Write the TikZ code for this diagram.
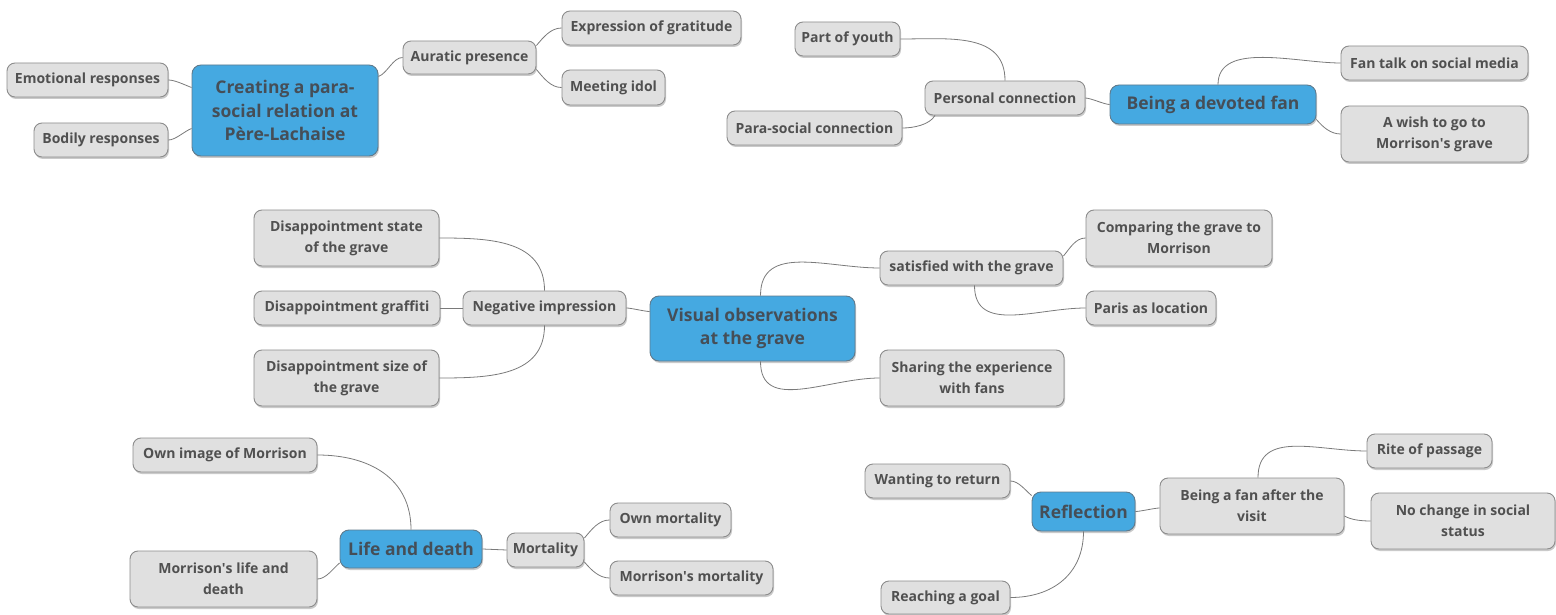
\documentclass[tikz,border=0pt]{standalone}
\usepackage{fontspec}
\setmainfont{Open Sans}
\usetikzlibrary{shadows}
\definecolor{nodefill}{HTML}{E0E0E0}
\definecolor{nodeline}{HTML}{8C8C8C}
\definecolor{txt}{HTML}{505050}
\definecolor{bluefill}{HTML}{45A9E1}
\definecolor{blueline}{HTML}{5F7A8C}
\definecolor{bluetxt}{HTML}{454E57}
\definecolor{conncol}{HTML}{7A7A7A}
\tikzset{
  box/.style={draw=nodeline, line width=0.9pt, fill=nodefill, rounded corners=8pt,
    text=txt, font=\fontsize{14}{21}\selectfont\bfseries, align=center,
    inner sep=0pt, drop shadow={shadow xshift=1pt, shadow yshift=-2pt, opacity=0.35, fill=black!60}},
  topic/.style={draw=blueline, line width=0.9pt, fill=bluefill, rounded corners=9pt,
    text=bluetxt, font=\fontsize{17.5}{23.5}\selectfont\bfseries, align=center,
    inner sep=0pt, drop shadow={shadow xshift=1pt, shadow yshift=-2pt, opacity=0.35, fill=black!60}},
  conn/.style={draw=conncol, line width=0.8pt},
}
\newcommand{\bx}[5]{\node[box, minimum width=#3pt, minimum height=#4pt] (#1) at #2 {#5};}
\newcommand{\tp}[5]{\node[topic, minimum width=#3pt, minimum height=#4pt] (#1) at #2 {#5};}
\newcommand{\ap}{\textquotesingle}
\begin{document}
\begin{tikzpicture}[x=1pt,y=-1pt]
\useasboundingbox (0,0) rectangle (1556,615);
% top-left
\tp{creat}{(285,110.5)}{186}{91}{Creating a para-\\social relation at\\Père-Lachaise}
\bx{emo}{(87.5,80)}{161}{34}{Emotional responses}
\bx{bod}{(101,140)}{134}{34}{Bodily responses}
\bx{aur}{(469.5,57.5)}{133}{33}{Auratic presence}
\bx{expr}{(651.5,28)}{179}{34}{Expression of gratitude}
\bx{meet}{(613.5,87.5)}{103}{35}{Meeting idol}
% top-right
\bx{youth}{(847.5,39)}{105}{34}{Part of youth}
\bx{pers}{(1005,98)}{160}{34}{Personal connection}
\bx{paras}{(814.5,128)}{175}{34}{Para-social connection}
\tp{devot}{(1213,104.5)}{206}{39}{Being a devoted fan}
\bx{fantalk}{(1434.5,63)}{187}{34}{Fan talk on social media}
\bx{wish}{(1434.5,134)}{187}{56}{A wish to go to\\Morrison\ap s grave}
% middle
\bx{dstate}{(346.5,238)}{185}{56}{Disappointment state\\of the grave}
\bx{dgraf}{(347,308)}{186}{34}{Disappointment graffiti}
\bx{dsize}{(346.5,378)}{185}{56}{Disappointment size of\\the grave}
\bx{neg}{(544.5,308)}{163}{34}{Negative impression}
\tp{visual}{(752.5,328.5)}{205}{65}{Visual observations\\at the grave}
\bx{satis}{(971.5,268)}{183}{34}{satisfied with the grave}
\bx{comp}{(1179,238)}{186}{56}{Comparing the grave to\\Morrison}
\bx{paris}{(1151,308)}{130}{34}{Paris as location}
\bx{share}{(972,378)}{184}{56}{Sharing the experience\\with fans}
% bottom-left
\bx{ownimg}{(225,455)}{184}{34}{Own image of Morrison}
\bx{mlife}{(223.5,579)}{187}{56}{Morrison\ap s life and\\death}
\tp{life}{(411,549)}{142}{38}{Life and death}
\bx{mort}{(545.5,550)}{77}{34}{Mortality}
\bx{ownmort}{(670.5,520)}{121}{34}{Own mortality}
\bx{mmort}{(691.5,578)}{163}{34}{Morrison\ap s mortality}
% bottom-right
\bx{want}{(937.5,481)}{145}{34}{Wanting to return}
\tp{refl}{(1083.5,511.5)}{103}{39}{Reflection}
\bx{fanafter}{(1252,506)}{184}{56}{Being a fan after the\\visit}
\bx{rite}{(1429.5,451)}{125}{34}{Rite of passage}
\bx{nochange}{(1463,521)}{184}{56}{No change in social\\status}
\bx{reach}{(945.5,597.5)}{129}{33}{Reaching a goal}
% connectors (yshift is in canvas direction: positive = up)
\draw[conn] ([yshift=34pt]creat.east) to[out=20,in=180,looseness=0.8] (aur.west);
\draw[conn] ([yshift=23pt]creat.west) to[out=160,in=0,looseness=0.7] (emo.east);
\draw[conn] ([yshift=-18pt]creat.west) to[out=-160,in=0,looseness=0.7] (bod.east);
\draw[conn] ([yshift=12pt]aur.east) to[out=50,in=180,looseness=0.9] (expr.west);
\draw[conn] ([yshift=-12pt]aur.east) to[out=-50,in=180,looseness=0.9] (meet.west);
\draw[conn] (devot.west) to[out=180,in=0,looseness=0.5] (pers.east);
\draw[conn] ([xshift=5pt]devot.north) to[out=90,in=180,looseness=0.9] (fantalk.west);
\draw[conn] ([yshift=-15pt]devot.east) to[out=-50,in=180,looseness=0.9] (wish.west);
\draw[conn] (pers.north) to[out=90,in=0,looseness=1.1] (youth.east);
\draw[conn] ([xshift=-70pt]pers.south) to[out=-120,in=0,looseness=0.8] (paras.east);
\draw[conn] ([yshift=17pt]visual.west) to[out=180,in=0,looseness=0.5] (neg.east);
\draw[conn] (neg.north) to[out=90,in=0,looseness=1.1] (dstate.east);
\draw[conn] (neg.west) -- (dgraf.east);
\draw[conn] (neg.south) to[out=-90,in=0,looseness=1.1] (dsize.east);
\draw[conn] ([xshift=8pt]visual.north) to[out=90,in=180,looseness=1.1] (satis.west);
\draw[conn] ([xshift=8pt]visual.south) to[out=-90,in=180,looseness=1.1] (share.west);
\draw[conn] ([yshift=12pt]satis.east) to[out=50,in=180,looseness=0.9] (comp.west);
\draw[conn] ([xshift=3pt]satis.south) to[out=-90,in=180,looseness=1.1] (paris.west);
\draw[conn] (life.north) to[out=90,in=0,looseness=1.1] (ownimg.east);
\draw[conn] ([yshift=-14pt]life.west) to[out=-140,in=0,looseness=0.8] (mlife.east);
\draw[conn] (life.east) -- (mort.west);
\draw[conn] ([yshift=12pt]mort.east) to[out=50,in=180,looseness=0.9] (ownmort.west);
\draw[conn] ([yshift=-12pt]mort.east) to[out=-50,in=180,looseness=0.9] (mmort.west);
\draw[conn] ([yshift=16pt]refl.west) to[out=140,in=0,looseness=0.8] (want.east);
\draw[conn] (refl.south) to[out=-90,in=0,looseness=1.1] (reach.east);
\draw[conn] (refl.east) to[out=0,in=180,looseness=0.5] ([yshift=-2pt]fanafter.west);
\draw[conn] ([xshift=6pt]fanafter.north) to[out=90,in=180,looseness=1.1] (rite.west);
\draw[conn] ([yshift=-10pt]fanafter.east) to[out=-30,in=180,looseness=0.8] (nochange.west);
\end{tikzpicture}
\end{document}
